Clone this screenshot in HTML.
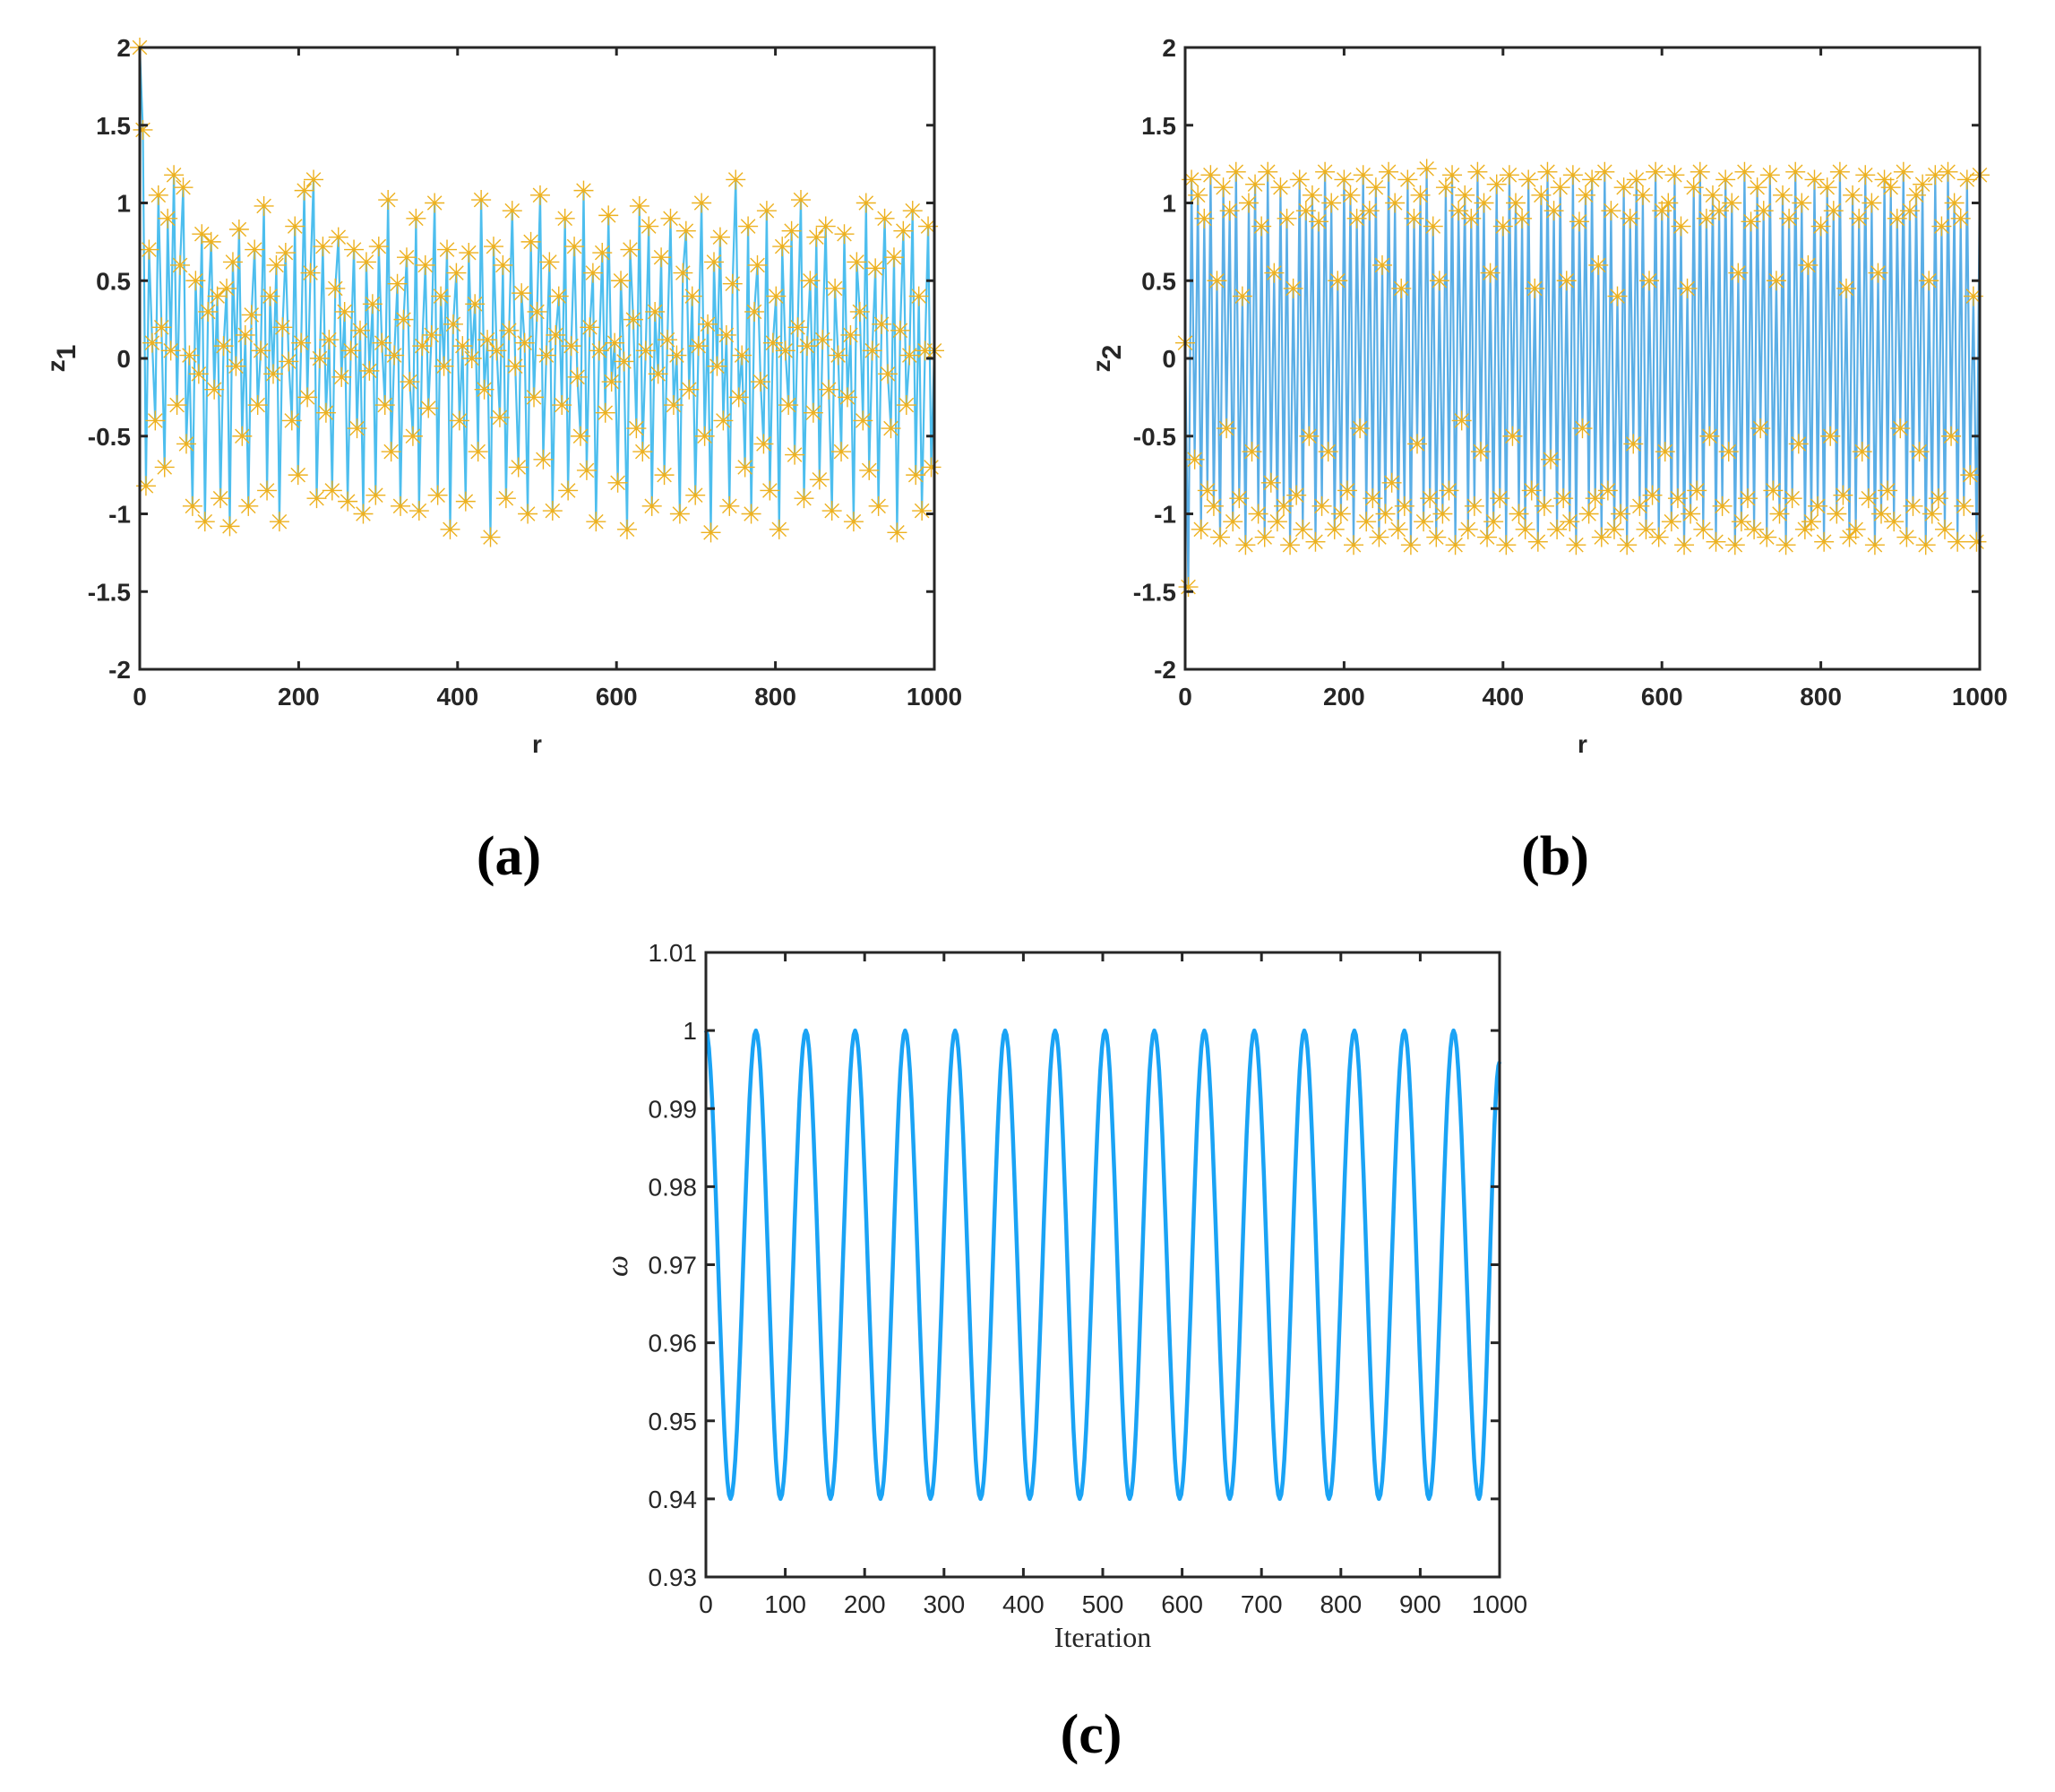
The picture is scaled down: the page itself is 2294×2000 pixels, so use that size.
<!DOCTYPE html>
<html><head><meta charset="utf-8"><style>
html,body{margin:0;padding:0;background:#fff;}
svg{display:block;}
.tk{font-family:"Liberation Sans",Arial,sans-serif;font-weight:bold;font-size:28px;fill:#262626;}
.tkc{font-family:"Liberation Sans",Arial,sans-serif;font-size:28px;fill:#262626;}
.cap{font-family:"Liberation Serif",serif;font-weight:bold;font-size:62px;fill:#000;}
</style></head><body>
<svg id="fig" width="2294" height="2000" viewBox="0 0 2294 2000" xmlns="http://www.w3.org/2000/svg">
<g id="pa"></g>
<g id="pb"></g>
<g id="pc"></g>
<text class="cap" x="568" y="976" text-anchor="middle">(a)</text>
<text class="cap" x="1736" y="976" text-anchor="middle">(b)</text>
<text class="cap" x="1218" y="1956" text-anchor="middle">(c)</text>
</svg>
<script>
const z1Values=[2,1.47,-0.82,0.7,0.1,-0.4,1.05,0.2,-0.7,0.9,0.05,1.18,-0.3,0.6,1.1,-0.55,0.02,-0.95,0.5,-0.1,0.8,-1.05,0.3,0.75,-0.2,0.4,-0.9,0.08,0.45,-1.08,0.62,-0.05,0.83,-0.5,0.15,-0.95,0.28,0.7,-0.3,0.05,0.98,-0.85,0.4,-0.1,0.6,-1.05,0.2,0.68,-0.02,-0.4,0.85,-0.75,0.1,1.08,-0.25,0.55,1.15,-0.9,0.0,0.72,-0.35,0.12,-0.85,0.45,0.78,-0.12,0.3,-0.92,0.05,0.7,-0.45,0.18,-1.0,0.62,-0.08,0.35,-0.88,0.72,0.1,-0.3,1.02,-0.6,0.02,0.48,-0.95,0.25,0.65,-0.15,-0.5,0.9,-0.98,0.08,0.6,-0.32,0.15,1.0,-0.88,0.4,-0.05,0.7,-1.1,0.22,0.55,-0.4,0.08,-0.92,0.68,0.0,0.35,-0.6,1.02,-0.2,0.12,-1.15,0.72,0.05,-0.38,0.6,-0.9,0.18,0.95,-0.05,-0.7,0.42,0.1,-1.0,0.75,-0.25,0.3,1.05,-0.65,0.02,0.62,-0.98,0.15,0.4,-0.3,0.9,-0.85,0.08,0.72,-0.12,-0.5,1.08,-0.72,0.2,0.55,-1.05,0.05,0.68,-0.35,0.92,-0.15,0.1,-0.8,0.5,-0.02,-1.1,0.7,0.25,-0.45,0.98,-0.6,0.05,0.85,-0.95,0.3,-0.1,0.65,-0.75,0.12,0.9,-0.3,0.02,-1.0,0.55,0.82,-0.2,0.4,-0.88,0.08,1.0,-0.5,0.22,-1.12,0.62,-0.05,0.78,-0.4,0.15,-0.95,0.48,1.15,-0.25,0.02,-0.7,0.85,-1.0,0.3,0.6,-0.15,-0.55,0.95,-0.85,0.1,0.4,-1.1,0.72,0.05,-0.3,0.82,-0.62,0.2,1.02,-0.9,0.08,0.5,-0.35,0.78,-0.78,0.12,0.85,-0.2,-0.98,0.45,0.02,-0.6,0.8,-0.25,0.15,-1.05,0.62,0.3,-0.4,1.0,-0.72,0.05,0.58,-0.95,0.22,0.9,-0.1,-0.45,0.65,-1.12,0.18,0.82,-0.3,0.02,0.95,-0.75,0.4,-0.98,0.05,0.85,-0.7,0.05];
const z2Values=[0.1,-1.47,1.15,-0.65,1.05,-1.1,0.9,-0.85,1.18,-0.95,0.5,-1.15,1.1,-0.45,0.95,-1.05,1.2,-0.9,0.4,-1.2,1.0,-0.6,1.12,-1.0,0.85,-1.15,1.2,-0.8,0.55,-1.05,1.1,-0.95,0.9,-1.2,0.45,-0.88,1.15,-1.1,0.95,-0.5,1.05,-1.18,0.88,-0.95,1.2,-0.6,1.0,-1.1,0.5,-1.0,1.15,-0.85,1.05,-1.2,0.9,-0.45,1.18,-1.05,0.95,-0.9,1.1,-1.15,0.6,-1.0,1.2,-0.8,1.0,-1.1,0.45,-0.95,1.15,-1.2,0.9,-0.55,1.05,-1.05,1.22,-0.9,0.85,-1.15,0.5,-1.0,1.1,-0.85,1.18,-1.2,0.95,-0.4,1.05,-1.1,0.9,-0.95,1.2,-0.6,1.0,-1.15,0.55,-1.05,1.12,-0.9,0.85,-1.2,1.18,-0.5,1.0,-1.0,0.9,-1.1,1.15,-0.85,0.45,-1.18,1.05,-0.95,1.2,-0.65,0.95,-1.1,1.1,-0.9,0.5,-1.05,1.18,-1.2,0.88,-0.45,1.05,-1.0,1.15,-0.9,0.6,-1.15,1.2,-0.85,0.95,-1.1,0.4,-1.0,1.1,-1.2,0.9,-0.55,1.15,-0.95,1.05,-1.1,0.5,-0.88,1.2,-1.15,0.95,-0.6,1.0,-1.05,1.18,-0.9,0.85,-1.2,0.45,-1.0,1.1,-0.85,1.2,-1.1,0.9,-0.5,1.05,-1.18,0.95,-0.95,1.15,-0.6,1.0,-1.2,0.55,-1.05,1.2,-0.9,0.88,-1.1,1.1,-0.45,0.95,-1.15,1.18,-0.85,0.5,-1.0,1.05,-1.2,0.9,-0.9,1.2,-0.55,1.0,-1.1,0.6,-1.05,1.15,-0.95,0.85,-1.18,1.1,-0.5,0.95,-1.0,1.2,-0.88,0.45,-1.15,1.05,-1.1,0.9,-0.6,1.18,-0.9,1.0,-1.2,0.55,-1.0,1.15,-0.85,1.1,-1.05,0.9,-0.45,1.2,-1.15,0.95,-0.95,1.05,-0.6,1.12,-1.2,0.5,-1.0,1.18,-0.9,0.85,-1.1,1.2,-0.5,1.0,-1.18,0.9,-0.95,1.15,-0.75,0.4,-1.18,1.18];
const abXTicks=[0,200,400,600,800,1000];
const abYTicks=[-2,-1.5,-1,-0.5,0,0.5,1,1.5,2];
const cPeakX=[0,63,126,188,251,314,377,440,503,565,628,691,754,817,880,942];
const cPeakY=[1,1,1,1,1,1,1,1,1,1,1,1,1,1,1,1];
const cTroughX=[31,94,157,220,283,346,408,471,534,597,660,723,785,848,911,974];
const cTroughY=[0.94,0.94,0.94,0.94,0.94,0.94,0.94,0.94,0.94,0.94,0.94,0.94,0.94,0.94,0.94,0.94];
const cEndX=[1000];
const cEndY=[0.996];
const cXTicks=[0,100,200,300,400,500,600,700,800,900,1000];
const cYTicks=[0.93,0.94,0.95,0.96,0.97,0.98,0.99,1,1.01];

const NS="http://www.w3.org/2000/svg";
function mk(tag,attrs,parent){const e=document.createElementNS(NS,tag);for(const k in attrs)e.setAttribute(k,attrs[k]);parent.appendChild(e);return e;}

function axes(g,L,R,T,B,xmin,xmax,ymin,ymax,xt,yt,cls,tickLen,fmt,xoff){
  const sx=v=>L+(v-xmin)/(xmax-xmin)*(R-L);
  const sy=v=>B-(v-ymin)/(ymax-ymin)*(B-T);
  return {sx,sy,draw(){
    const box=mk('rect',{x:L,y:T,width:R-L,height:B-T,fill:'none',stroke:'#262626','stroke-width':3},g);
    
    
    xt.forEach(v=>{const x=sx(v);
      mk('line',{x1:x,y1:B,x2:x,y2:B-tickLen,stroke:'#262626','stroke-width':3},g);
      mk('line',{x1:x,y1:T,x2:x,y2:T+tickLen,stroke:'#262626','stroke-width':3},g);
      const t=mk('text',{x:x,y:B+xoff,'text-anchor':'middle',class:cls},g);t.textContent=fmt(v);
      
      });
    yt.forEach(v=>{const y=sy(v);
      mk('line',{x1:L,y1:y,x2:L+tickLen,y2:y,stroke:'#262626','stroke-width':3},g);
      mk('line',{x1:R,y1:y,x2:R-tickLen,y2:y,stroke:'#262626','stroke-width':3},g);
      const t=mk('text',{x:L-10,y:y+10,'text-anchor':'end',class:cls},g);t.textContent=fmt(v);
      
      });
  }};
}

function scatterPanel(gid,L,R,vals,lineColor,label,sub){
  const g=document.getElementById(gid);
  const T=53,B=747;
  const ax=axes(g,L,R,T,B,0,1000,-2,2,abXTicks,abYTicks,'tk',9,v=>String(v),40);
  const n=vals.length;
  const xs=vals.map((v,i)=>i*1000/(n-1));
  let d='';vals.forEach((v,i)=>{d+=(i?'L':'M')+ax.sx(xs[i]).toFixed(1)+' '+ax.sy(v).toFixed(1);});
  const ln=mk('path',{d:d,fill:'none',stroke:lineColor,'stroke-width':2.2},g);
  
  
  let sd='';const s=11,s2=7.8;
  vals.forEach((v,i)=>{const x=ax.sx(xs[i]),y=ax.sy(v);
    sd+=`M${x-s} ${y}h${2*s}M${x} ${y-s}v${2*s}M${x-s2} ${y-s2}l${2*s2} ${2*s2}M${x-s2} ${y+s2}l${2*s2} ${-2*s2}`;});
  const st=mk('path',{d:sd,fill:'none',stroke:'#EDB120','stroke-width':1.4},g);
  
  
  ax.draw();
  const xl=mk('text',{x:(L+R)/2,y:840,'text-anchor':'middle',class:'tk','font-size':'38'},g);xl.textContent='r';
  
  
  const yl=mk('text',{transform:`translate(${L-84},400) rotate(-90)`,'text-anchor':'middle',class:'tk','font-size':'42'},g);
  yl.innerHTML=label+'<tspan font-size="30" dy="12">'+sub+'</tspan>';
  
  
}
scatterPanel('pa',156,1043,z1Values,'#4DBEEE','z','1');
scatterPanel('pb',1323,2210,z2Values,'#5AAEE6','z','2');

(function(){
  const g=document.getElementById('pc');
  const L=788,R=1674,T=1063,B=1760;
  const ax=axes(g,L,R,T,B,0,1000,0.93,1.01,cXTicks,cYTicks,'tkc',10,v=>String(+v.toFixed(2)),40);
  const pts=[];
  cPeakX.forEach((x,i)=>pts.push([x,cPeakY[i]]));
  cTroughX.forEach((x,i)=>pts.push([x,cTroughY[i]]));
  cEndX.forEach((x,i)=>pts.push([x,cEndY[i]]));
  pts.sort((a,b)=>a[0]-b[0]);
  let d='M'+ax.sx(pts[0][0])+' '+ax.sy(pts[0][1]);
  for(let i=1;i<pts.length;i++){const a=pts[i-1],b=pts[i];
    for(let k=1;k<=16;k++){const t=k/16;const x=a[0]+(b[0]-a[0])*t;const y=a[1]+(b[1]-a[1])*(1-Math.cos(Math.PI*t))/2;
      d+='L'+ax.sx(x).toFixed(1)+' '+ax.sy(y).toFixed(1);}}
  const ln=mk('path',{d:d,fill:'none',stroke:'#1AA3F5','stroke-width':4.5,'stroke-linejoin':'round'},g);
  
  
  ax.draw();
  const xl=mk('text',{x:(L+R)/2,y:1838,'text-anchor':'middle','font-family':'Liberation Serif, serif','font-size':'32',fill:'#262626'},g);xl.textContent='Iteration';
  
  
  const yl=mk('text',{transform:'translate(700,1413) rotate(-90)','text-anchor':'middle','font-family':'Liberation Serif, serif','font-style':'italic','font-size':'34',fill:'#262626'},g);yl.textContent='ω';
  
  
})();
</script>
</body></html>
